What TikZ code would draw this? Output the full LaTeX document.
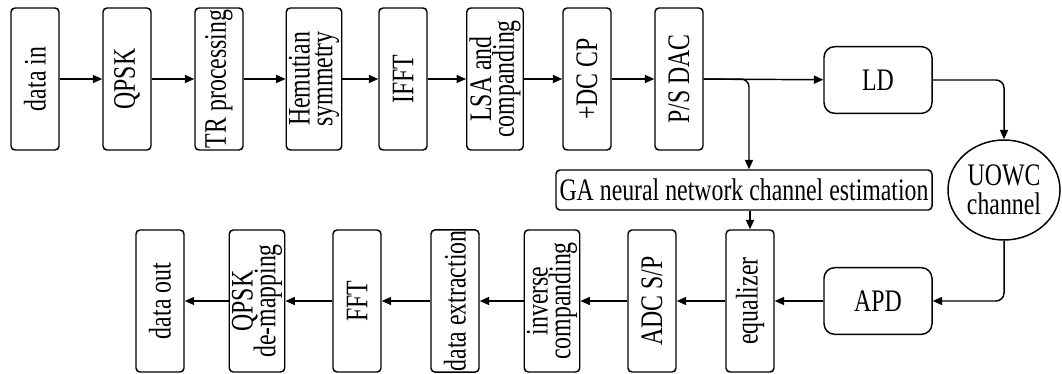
\documentclass[tikz,border=0pt]{standalone}
\usepackage{fontspec}
\setmainfont{Liberation Serif}[FakeStretch=0.76]
\usepackage{tikz}
\usetikzlibrary{arrows.meta}
\usetikzlibrary{shapes.geometric}
\lineskiplimit=-\maxdimen

\begin{document}
\begin{tikzpicture}[x=0.75pt,y=0.75pt,yscale=-1,xscale=1,
  every node/.style={font=\fontsize{23.5}{17}\selectfont},
  vbox/.style={draw, line width=1.1pt, rounded corners=3pt, rotate=90, align=center,
    minimum width=106.5pt, minimum height=36pt, inner xsep=0.5pt, inner ysep=2pt},
  wbox/.style={draw, line width=1.1pt, rounded corners=8pt, align=center,
    minimum width=81pt, minimum height=50pt, inner sep=0.75pt},
  flow/.style={line width=1.1pt, -{Triangle[length=7pt,width=6pt]}, rounded corners=6pt}]
\useasboundingbox (0,0) rectangle (1062,374);

%Transmitter row
\node [vbox] (datain) at (35,79) {data in};
\node [vbox] (qpsk) at (127,79) {QPSK};
\node [vbox] (trproc) at (219,79) {TR processing};
\node [vbox] (hermit) at (314,79) {Hemutian\\symmetry};
\node [vbox] (ifft) at (403,79) {IFFT};
\node [vbox] (lsa) at (495,79) {LSA and\\companding};
\node [vbox] (dccp) at (587,79) {+DC CP};
\node [vbox] (psdac) at (679,79) {P/S DAC};
\node [wbox] (ld) at (878,80) {LD};

%Channel and estimation
\node [draw, line width=1.1pt, ellipse, align=center, minimum width=84pt, minimum height=75pt, inner sep=0pt, font=\fontsize{23.5}{22}\selectfont] (uowc) at (1004,190) {UOWC\\channel};
\node [draw, line width=1.1pt, rounded corners=3pt, minimum width=282pt, minimum height=30pt, inner sep=0.75pt] (ga) at (744,190) {GA neural network channel estimation};

%Receiver row
\node [wbox] (apd) at (878,301) {APD};
\node [vbox] (equal) at (750,301) {equalizer};
\node [vbox] (adcsp) at (652,301) {ADC S/P};
\node [vbox] (invcomp) at (552,301) {inverse\\companding};
\node [vbox] (dataext) at (455,301) {data extraction};
\node [vbox] (fft) at (357,301) {FFT};
\node [vbox] (qpskdm) at (257,301) {QPSK\\de-mapping};
\node [vbox] (dataout) at (160,301) {data out};

\coordinate (split) at (749,79);

% Connectors
\draw [flow] (datain) -- (qpsk);
\draw [flow] (qpsk) -- (trproc);
\draw [flow] (trproc) -- (hermit);
\draw [flow] (hermit) -- (ifft);
\draw [flow] (ifft) -- (lsa);
\draw [flow] (lsa) -- (dccp);
\draw [flow] (dccp) -- (psdac);
\draw [flow] (psdac) -- (ld);
\draw [flow] (psdac.south |- split) -| (split |- ga.north);
\draw [flow] (ld) -| (uowc);
\draw [flow] (uowc) |- (apd);
\draw [flow] (ga.south -| equal) -- (equal);
\draw [flow] (apd) -- (equal);
\draw [flow] (equal) -- (adcsp);
\draw [flow] (adcsp) -- (invcomp);
\draw [flow] (invcomp) -- (dataext);
\draw [flow] (dataext) -- (fft);
\draw [flow] (fft) -- (qpskdm);
\draw [flow] (qpskdm) -- (dataout);

\end{tikzpicture}
\end{document}
